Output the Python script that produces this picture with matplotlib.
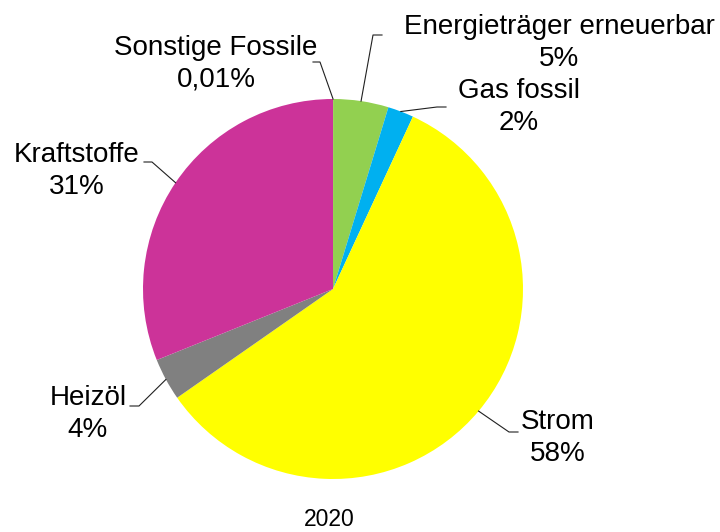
import numpy as np
import matplotlib
matplotlib.use("Agg")
import matplotlib.pyplot as plt

plt.rcParams['font.family'] = ['Liberation Sans', 'DejaVu Sans']

# data (clockwise from 12 o'clock)
labels = ['Sonstige Fossile', 'Energieträger erneuerbar', 'Gas fossil', 'Strom', 'Heizöl', 'Kraftstoffe']
shares = [0.01, 4.7, 2.2, 58.4, 3.6, 31.1]
pct_text = ['0,01%', '5%', '2%', '58%', '4%', '31%']
colors = ['#404040', '#92D050', '#00B0F0', '#FFFF00', '#808080', '#CC3399']
year = '2020'

W, H = 720, 532
fig = plt.figure(figsize=(W / 100, H / 100), dpi=100)
ax = fig.add_axes([0, 0, 1, 1])

cx, cy, R = 333, H - 289, 190
wedges, _ = ax.pie(shares, colors=colors, startangle=90, counterclock=False,
                   center=(cx, cy), radius=R, frame=True)
ax.set_xlim(0, W)
ax.set_ylim(0, H)
ax.set_aspect('equal')
ax.axis('off')

# leader layout: elbow point, end of horizontal stub, text centre (pixel coords from top)
layout = {
    'Sonstige Fossile':         ((320, 62), (313, 62), (216, 64)),
    'Energieträger erneuerbar': ((373, 35), (382, 35), (559, 43)),
    'Gas fossil':               ((437, 107), (446, 107), (519, 107)),
    'Strom':                    ((509, 432), (518, 432), (558, 438)),
    'Heizöl':                   ((139, 406), (130, 406), (88, 414)),
    'Kraftstoffe':              ((152, 162), (144, 162), (77, 171)),
}

for w, lab, pct in zip(wedges, labels, pct_text):
    mid = np.deg2rad((w.theta1 + w.theta2) / 2)
    sx, sy = cx + R * np.cos(mid), cy + R * np.sin(mid)
    (ex, ey), (hx, hy), (tx, ty) = layout[lab]
    ax.plot([sx, ex, hx], [sy, H - ey, H - hy], color='#202020', lw=0.8)
    ax.text(tx, H - ty, f'{lab}\n{pct}', ha='center', va='center',
            fontsize=20, linespacing=1.28, color='black')

ax.text(329, H - 519, year, ha='center', va='center', fontsize=16.5, color='black')

fig.savefig('out.png', dpi=100)
